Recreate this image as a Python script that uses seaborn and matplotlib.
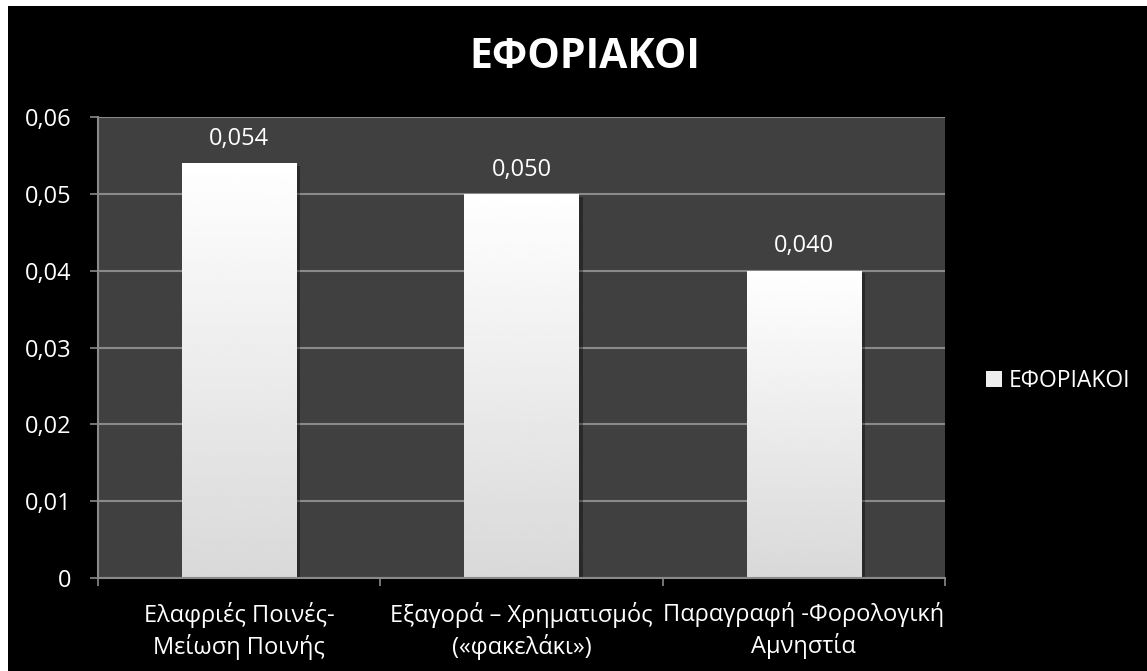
import matplotlib
matplotlib.use("Agg")
import matplotlib.pyplot as plt
import matplotlib.patches as mpatches
import matplotlib.patheffects as pe
import numpy as np
import seaborn as sns

# Chart data
categories = [
    "Ελαφριές Ποινές-\nΜείωση Ποινής",
    "Εξαγορά – Χρηματισμός\n(«φακελάκι»)",
    "Παραγραφή -Φορολογική\nΑμνηστία",
]
values = [0.054, 0.050, 0.040]
series_name = "ΕΦΟΡΙΑΚΟΙ"
title = "ΕΦΟΡΙΑΚΟΙ"
yticks = [0, 0.01, 0.02, 0.03, 0.04, 0.05, 0.06]

sns.set_theme(style="white")
plt.rcParams["font.family"] = ["Open Sans", "DejaVu Sans"]

W, H, DPI = 1147, 671, 100
fig = plt.figure(figsize=(W / DPI, H / DPI), dpi=DPI)
fig.patch.set_facecolor("white")

# black chart area framed by a thin white margin on top and left
fig.patches.append(mpatches.Rectangle((8 / W, 0), 1, 1 - 6 / H,
                                      transform=fig.transFigure,
                                      facecolor="black", edgecolor="none",
                                      zorder=-10))

left, right, top, bottom = 98 / W, 945 / W, 1 - 117 / H, 1 - 578 / H
ax = fig.add_axes([left, bottom, right - left, top - bottom])
ax.set_facecolor("#404040")

grid_col = "#8a8a8a"
fs = 17
sns.barplot(x=categories, y=values, width=0.404, color="white",
            edgecolor="none", ax=ax, zorder=3)

ax.set_xlim(-0.5, len(categories) - 0.5)
ax.set_ylim(0, 0.06)

# vertical white-to-grey gradient inside each bar, with a soft shadow
grad = np.linspace(0.85, 1.0, 256).reshape(-1, 1)
for patch in ax.patches:
    x0, y0 = patch.get_x(), patch.get_y()
    w, h = patch.get_width(), patch.get_height()
    patch.set_path_effects([pe.SimplePatchShadow(offset=(3, -2), alpha=0.35,
                                                 shadow_rgbFace="black"),
                            pe.Normal()])
    im = ax.imshow(grad, extent=(x0, x0 + w, y0, y0 + h), origin="lower",
                   cmap="gray", vmin=0, vmax=1, aspect="auto",
                   interpolation="bicubic", zorder=4)
    im.set_clip_path(patch)

ax.set_xlim(-0.5, len(categories) - 0.5)
ax.set_ylim(0, 0.06)

# value labels
for i, v in enumerate(values):
    ax.annotate(f"{v:.3f}".replace(".", ","), (i, v), xytext=(0, 17.5),
                textcoords="offset points", ha="center", va="center",
                color="white", fontsize=fs, zorder=6)

# grid and axes
ax.set_yticks(yticks)
ax.set_yticklabels([("0" if t == 0 else f"{t:.2f}".replace(".", ",")) for t in yticks])
ax.yaxis.grid(True, color=grid_col, linewidth=1.5, zorder=1)
ax.set_axisbelow(True)
for s in ["top", "right"]:
    ax.spines[s].set_visible(False)
for s in ["left", "bottom"]:
    ax.spines[s].set_color(grid_col)
    ax.spines[s].set_linewidth(1.5)
    ax.spines[s].set_zorder(5)

ax.tick_params(axis="y", which="major", direction="out", length=6, width=1.2,
               color=grid_col, pad=13, labelsize=fs, labelcolor="white", left=True)
ax.set_xticks(range(len(categories)))
ax.set_xticklabels(categories, linespacing=1.3)
ax.tick_params(axis="x", which="major", length=0, pad=17, labelsize=fs,
               labelcolor="white")
ax.set_xticks([-0.5, 0.5, 1.5, 2.5], minor=True)
ax.tick_params(axis="x", which="minor", direction="out", length=6, width=1.2,
               color=grid_col, bottom=True)
ax.set_xlabel("")
ax.set_ylabel("")

fig.text(585 / W, 1 - 57 / H, title, ha="center", va="center",
         color="white", fontsize=29.5, fontweight="bold")

handle = mpatches.Patch(facecolor="#eeeeee", edgecolor="none", label=series_name)
fig.legend(handles=[handle], loc="center left",
           bbox_to_anchor=(986 / W, 1 - 381 / H), frameon=False,
           fontsize=16.5, labelcolor="white", handlelength=0.7,
           handleheight=0.7, handletextpad=0.3, borderpad=0, borderaxespad=0)

fig.savefig("out.png", dpi=DPI, facecolor=fig.get_facecolor())
